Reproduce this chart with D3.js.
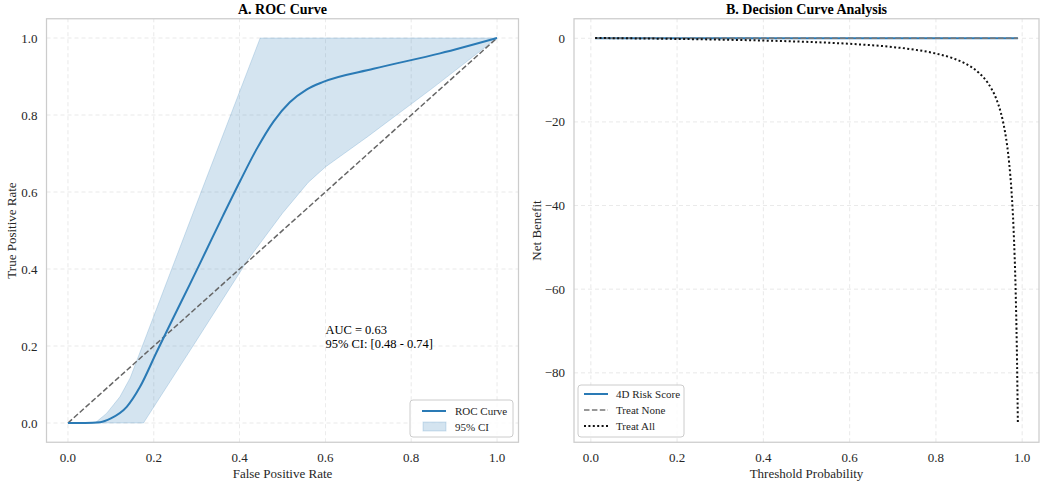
<!DOCTYPE html>
<html>
<head>
<meta charset="utf-8">
<script src="https://cdn.jsdelivr.net/npm/d3@7/dist/d3.min.js"></script>
<style>
body { margin: 0; background: #fff; }
svg text { font-family: "Liberation Serif", "DejaVu Serif", serif; fill: #262626; }
</style>
</head>
<body>
<div id="chart"></div>
<script>
var WIDTH = 1052;
var HEIGHT = 485;

// ROC curve
var rocFpr = [0, 0.04, 0.075, 0.10, 0.137, 0.168, 0.207, 0.245, 0.284, 0.323, 0.362, 0.401, 0.44, 0.479, 0.517, 0.556, 0.595, 0.712, 0.867, 1.0];
var rocTpr = [0, 0, 0.002, 0.012, 0.042, 0.094, 0.185, 0.272, 0.36, 0.45, 0.54, 0.628, 0.712, 0.783, 0.833, 0.866, 0.886, 0.92, 0.96, 1.0];

var ciUpperFpr = [0, 0.063, 0.09, 0.121, 0.145, 0.30, 0.448, 0.70, 1.0];
var ciUpperTpr = [0, 0, 0.025, 0.068, 0.117, 0.57, 1.0, 1.0, 1.0];
var ciLowerFpr = [0, 0.176, 0.30, 0.42, 0.50, 0.56, 0.60, 0.70, 0.85, 1.0];
var ciLowerTpr = [0, 0, 0.215, 0.425, 0.545, 0.625, 0.665, 0.745, 0.87, 1.0];

var rocTicks = [0, 0.2, 0.4, 0.6, 0.8, 1.0];
var aucLines = ["AUC = 0.63", "95% CI: [0.48 - 0.74]"];

// decision curve
var thresholds = [0.01, 0.05, 0.10, 0.20, 0.30, 0.40, 0.50, 0.60, 0.70, 0.75, 0.80, 0.84, 0.87, 0.90, 0.92, 0.94, 0.95, 0.955, 0.96, 0.965, 0.97, 0.975, 0.98, 0.985, 0.9875, 0.99];
var riskScoreNB = [0, 0, 0, 0, 0, 0, 0, 0, 0, 0, 0, 0, 0, 0, 0, 0, 0, 0, 0, 0, 0, 0, 0, 0, 0, 0];
var treatNoneNB = [0, 0, 0, 0, 0, 0, 0, 0, 0, 0, 0, 0, 0, 0, 0, 0, 0, 0, 0, 0, 0, 0, 0, 0, 0, 0];
var treatAllNB = [0.06, 0.021, -0.033, -0.16, -0.33, -0.55, -0.86, -1.33, -2.10, -2.72, -3.65, -4.81, -6.15, -8.30, -10.63, -14.50, -17.60, -19.67, -22.25, -25.57, -30.0, -36.2, -45.5, -61.0, -73.4, -92.0];

var dcaXTicks = [0, 0.2, 0.4, 0.6, 0.8, 1.0];
var dcaYTicks = [0, -20, -40, -60, -80];
var dcaLegend = ["4D Risk Score", "Treat None", "Treat All"];

var BLUE = "#2a7ab5";
var TOP = 18.75, BOTTOM = 442.25;

function pad(ext, f) {
    var d = (ext[1] - ext[0]) * f;
    return [ext[0] - d, ext[1] + d];
}
function zip(xs, ys) {
    return xs.map(function(x, i) { return [x, ys[i]]; });
}

var svg = d3.select("#chart").append("svg")
    .attr("width", WIDTH)
    .attr("height", HEIGHT);

function frame(g, x0, x1, title, xlab, ylab, ylabX) {
    g.append("rect")
        .attr("x", x0).attr("y", TOP)
        .attr("width", x1 - x0).attr("height", BOTTOM - TOP)
        .attr("fill", "none")
        .attr("stroke", "#cccccc")
        .attr("stroke-width", 1.25);
    g.append("text")
        .attr("x", (x0 + x1) / 2).attr("y", 14)
        .attr("text-anchor", "middle")
        .style("font-size", "14px").style("font-weight", "bold").style("fill", "#000")
        .text(title);
    g.append("text")
        .attr("x", (x0 + x1) / 2).attr("y", 478)
        .attr("text-anchor", "middle")
        .style("font-size", "13px")
        .text(xlab);
    g.append("text")
        .attr("transform", "translate(" + ylabX + "," + ((TOP + BOTTOM) / 2) + ") rotate(-90)")
        .attr("text-anchor", "middle")
        .style("font-size", "13px")
        .text(ylab);
}

function grid(g, x, y, xt, yt, fmtX, fmtY) {
    var xr = x.range(), yr = y.range();
    g.selectAll(null).data(xt).enter().append("line")
        .attr("x1", function(d) { return x(d); }).attr("x2", function(d) { return x(d); })
        .attr("y1", yr[0]).attr("y2", yr[1])
        .attr("stroke", "#d9d9d9").attr("stroke-width", 0.8)
        .attr("stroke-dasharray", "4,3").attr("opacity", 0.7);
    g.selectAll(null).data(yt).enter().append("line")
        .attr("y1", function(d) { return y(d); }).attr("y2", function(d) { return y(d); })
        .attr("x1", xr[0]).attr("x2", xr[1])
        .attr("stroke", "#d9d9d9").attr("stroke-width", 0.8)
        .attr("stroke-dasharray", "4,3").attr("opacity", 0.7);
    g.selectAll(null).data(xt).enter().append("text")
        .attr("x", function(d) { return x(d); }).attr("y", 462)
        .attr("text-anchor", "middle")
        .style("font-size", "13px")
        .text(fmtX);
    g.selectAll(null).data(yt).enter().append("text")
        .attr("x", xr[0] - 9).attr("y", function(d) { return y(d) + 4.5; })
        .attr("text-anchor", "end")
        .style("font-size", "13px")
        .text(fmtY);
}

// ---------- A. ROC ----------
var gA = svg.append("g");
var xA = d3.scaleLinear().domain([-0.05, 1.05]).range([46.5, 518.5]);
var yA = d3.scaleLinear().domain([-0.05, 1.05]).range([BOTTOM, TOP]);

grid(gA, xA, yA, rocTicks, rocTicks, d3.format(".1f"), d3.format(".1f"));

var bandPts = zip(ciUpperFpr, ciUpperTpr).concat(zip(ciLowerFpr, ciLowerTpr).reverse());
gA.append("path")
    .attr("d", d3.line().x(function(d) { return xA(d[0]); }).y(function(d) { return yA(d[1]); })(bandPts) + "Z")
    .attr("fill", BLUE).attr("fill-opacity", 0.2)
    .attr("stroke", BLUE).attr("stroke-opacity", 0.2).attr("stroke-width", 1);

gA.append("path")
    .attr("d", d3.line().x(function(d) { return xA(d); }).y(function(d) { return yA(d); })([0, 1]))
    .attr("stroke", "#666").attr("stroke-width", 1.5)
    .attr("stroke-dasharray", "5.5,2.4").attr("fill", "none");

gA.append("path")
    .attr("d", d3.line().curve(d3.curveMonotoneX)
        .x(function(d) { return xA(d[0]); }).y(function(d) { return yA(d[1]); })(zip(rocFpr, rocTpr)))
    .attr("stroke", BLUE).attr("stroke-width", 2).attr("fill", "none");

gA.selectAll(null).data(aucLines).enter().append("text")
    .attr("x", xA(0.6)).attr("y", function(d, i) { return 334 + i * 14; })
    .style("font-size", "12.5px").style("fill", "#000")
    .text(function(d) { return d; });

frame(gA, 46.5, 518.5, "A. ROC Curve", "False Positive Rate", "True Positive Rate", 16);

var lgA = gA.append("g");
lgA.append("rect")
    .attr("x", 410).attr("y", 400).attr("width", 103).attr("height", 37).attr("rx", 3)
    .attr("fill", "#fff").attr("fill-opacity", 0.8).attr("stroke", "#cccccc");
lgA.append("line")
    .attr("x1", 422).attr("x2", 446).attr("y1", 411).attr("y2", 411)
    .attr("stroke", BLUE).attr("stroke-width", 2);
lgA.append("rect")
    .attr("x", 423).attr("y", 422).attr("width", 23).attr("height", 9)
    .attr("fill", BLUE).attr("fill-opacity", 0.2).attr("stroke", BLUE).attr("stroke-opacity", 0.2);
lgA.append("text").attr("x", 455).attr("y", 415).style("font-size", "11px").text("ROC Curve");
lgA.append("text").attr("x", 455).attr("y", 431).style("font-size", "11px").text("95% CI");

// ---------- B. DCA ----------
var gB = svg.append("g");
var xB = d3.scaleLinear().domain(pad(d3.extent(thresholds), 0.05)).range([574, 1039]);
var yB = d3.scaleLinear().domain(pad(d3.extent(treatAllNB.concat(riskScoreNB)), 0.05)).range([BOTTOM, TOP]);

grid(gB, xB, yB, dcaXTicks, dcaYTicks, d3.format(".1f"),
    function(d) { return d < 0 ? "\u2212" + Math.abs(d) : d; });

var lineB = function(vals) {
    return d3.line().curve(d3.curveMonotoneX)
        .x(function(d) { return xB(d[0]); }).y(function(d) { return yB(d[1]); })(zip(thresholds, vals));
};

var styles = [
    { vals: riskScoreNB, stroke: BLUE, width: 2, dash: null },
    { vals: treatNoneNB, stroke: "#777", width: 1.5, dash: "5.5,2.4" },
    { vals: treatAllNB, stroke: "#111", width: 2, dash: "2,2.4" }
];

gB.selectAll(null).data(styles).enter().append("path")
    .attr("d", function(d) { return lineB(d.vals); })
    .attr("stroke", function(d) { return d.stroke; })
    .attr("stroke-width", function(d) { return d.width; })
    .attr("stroke-dasharray", function(d) { return d.dash; })
    .attr("fill", "none");

frame(gB, 574, 1039, "B. Decision Curve Analysis", "Threshold Probability", "Net Benefit", 541);

var lgB = gB.append("g");
lgB.append("rect")
    .attr("x", 578).attr("y", 385).attr("width", 106).attr("height", 52).attr("rx", 3)
    .attr("fill", "#fff").attr("fill-opacity", 0.8).attr("stroke", "#cccccc");
lgB.selectAll(null).data(styles).enter().append("line")
    .attr("x1", 584).attr("x2", 608)
    .attr("y1", function(d, i) { return 394 + i * 16; })
    .attr("y2", function(d, i) { return 394 + i * 16; })
    .attr("stroke", function(d) { return d.stroke; })
    .attr("stroke-width", function(d) { return d.width; })
    .attr("stroke-dasharray", function(d) { return d.dash; });
lgB.selectAll(null).data(dcaLegend).enter().append("text")
    .attr("x", 616).attr("y", function(d, i) { return 398 + i * 16; })
    .style("font-size", "11px")
    .text(function(d) { return d; });
</script>
</body>
</html>
